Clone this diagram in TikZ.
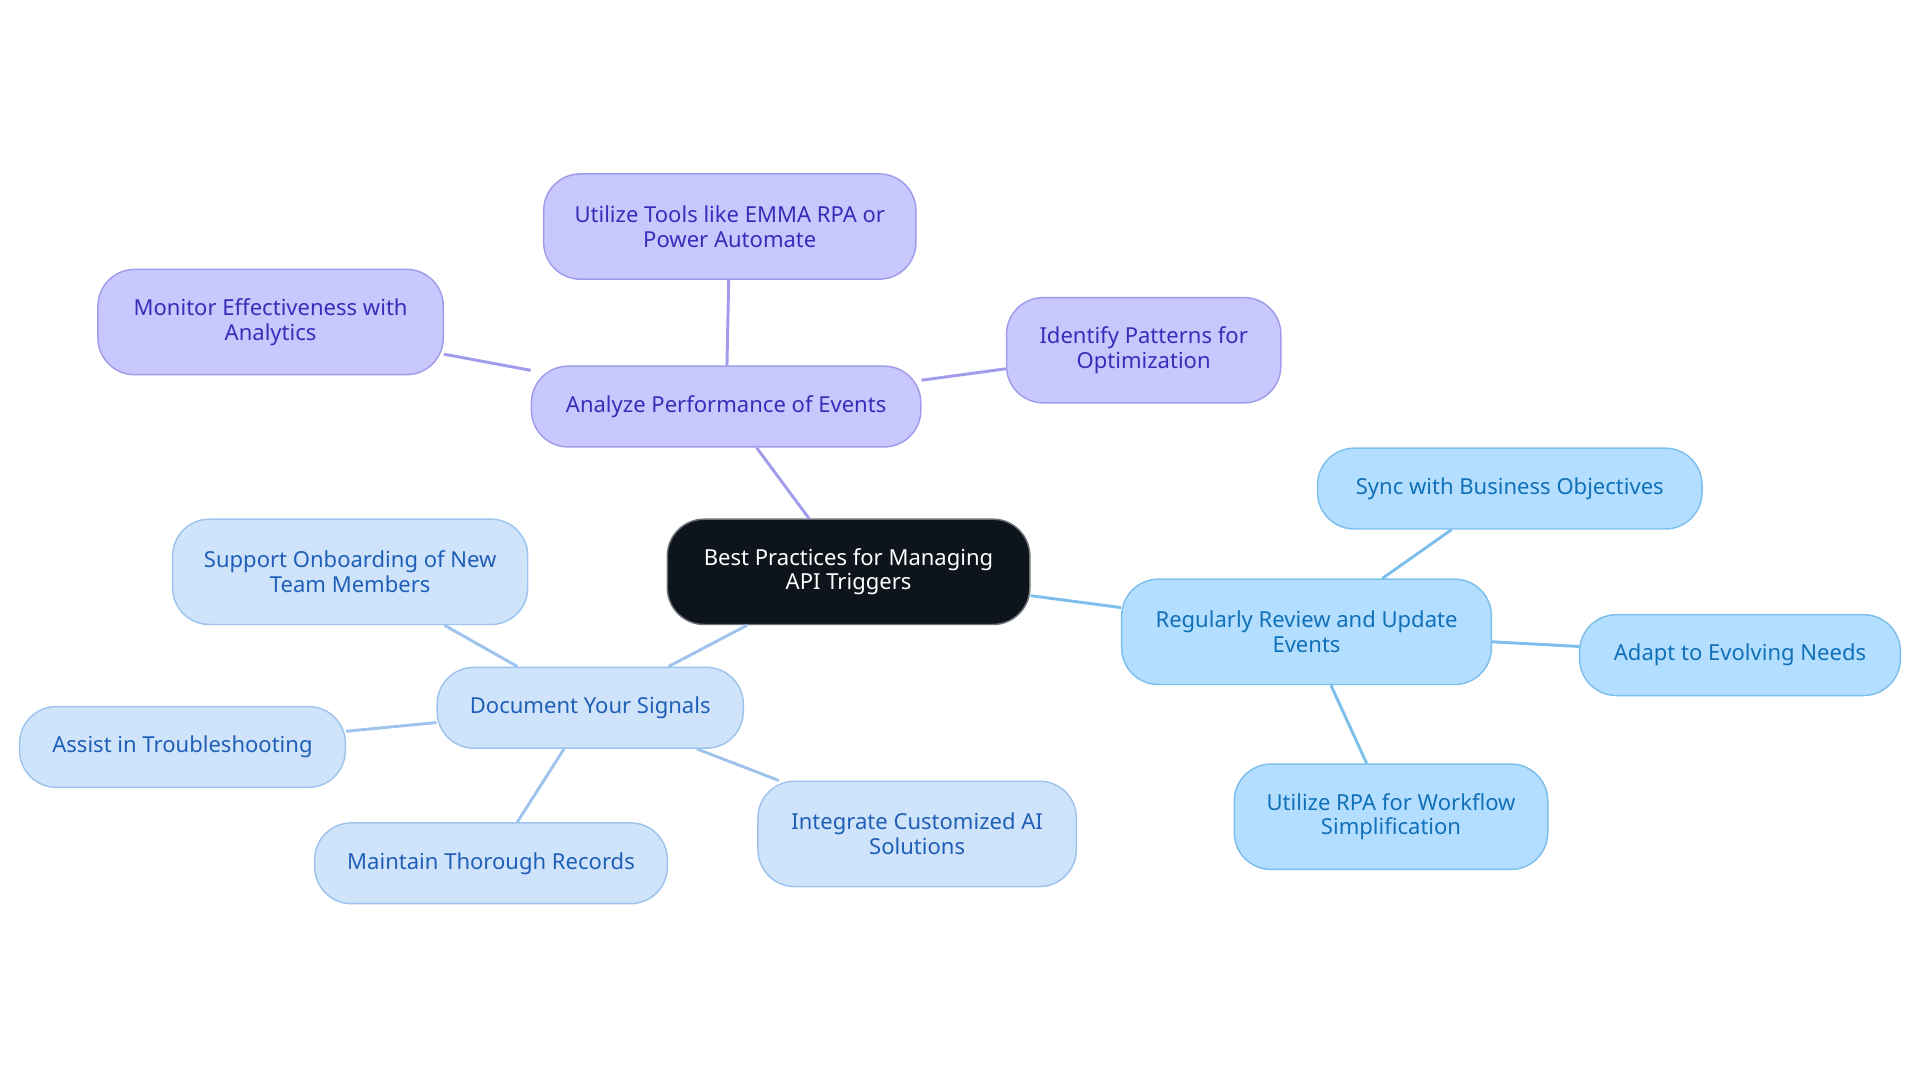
\documentclass[tikz,border=0pt]{standalone}
\usepackage{fontspec}
\setmainfont{Noto Sans}
\usetikzlibrary{positioning}
\definecolor{rootfill}{HTML}{0D141C}
\definecolor{purfill}{HTML}{C8C8FF}
\definecolor{purline}{HTML}{A09BEA}
\definecolor{purtext}{HTML}{3A2BB8}
\definecolor{docfill}{HTML}{CFE3FB}
\definecolor{docline}{HTML}{9EC4EE}
\definecolor{doctext}{HTML}{1F5FB8}
\definecolor{revfill}{HTML}{B3DEFF}
\definecolor{revline}{HTML}{7DBFEC}
\definecolor{revtext}{HTML}{1070B8}
\tikzset{
  box/.style={rounded corners=15pt,draw,line width=0.6pt,align=center,inner sep=2pt,
    font=\fontsize{9}{10}\selectfont},
  root/.style={box,fill=rootfill,draw=rootfill!60,text=white,minimum width=148pt,minimum height=43pt},
  pur/.style={box,fill=purfill,draw=purline,text=purtext},
  doc/.style={box,fill=docfill,draw=docline,text=doctext},
  rev/.style={box,fill=revfill,draw=revline,text=revtext},
  link/.style={line width=1.2pt}
}
\begin{document}
\begin{tikzpicture}[x=0.5pt,y=-0.5pt]
  \useasboundingbox (0,0) rectangle (1568,884);
  \node[root] (Root) at (693,467) {Best Practices for Managing\\API Triggers};
  % analyze branch
  \node[pur,minimum width=159pt,minimum height=33pt] (Analyze) at (593,332) {Analyze Performance of Events};
  \node[pur,minimum width=152pt,minimum height=43pt] (Tools) at (596,185) {Utilize Tools like EMMA RPA or\\Power Automate};
  \node[pur,minimum width=141pt,minimum height=43pt] (Monitor) at (221,263) {Monitor Effectiveness with\\Analytics};
  \node[pur,minimum width=112pt,minimum height=43pt] (Patterns) at (934,286) {Identify Patterns for\\Optimization};
  % review branch
  \node[rev,minimum width=151pt,minimum height=43pt] (Review) at (1067,516) {Regularly Review and Update\\Events};
  \node[rev,minimum width=157pt,minimum height=33pt] (Sync) at (1233,399) {Sync with Business Objectives};
  \node[rev,minimum width=131pt,minimum height=33pt] (Adapt) at (1421,535) {Adapt to Evolving Needs};
  \node[rev,minimum width=128pt,minimum height=43pt] (RPA) at (1136,667) {Utilize RPA for Workflow\\Simplification};
  % document branch
  \node[doc,minimum width=125pt,minimum height=33pt] (Document) at (482,578) {Document Your Signals};
  \node[doc,minimum width=145pt,minimum height=43pt] (Onboard) at (286,467) {Support Onboarding of New\\Team Members};
  \node[doc,minimum width=133pt,minimum height=33pt] (Assist) at (149,610) {Assist in Troubleshooting};
  \node[doc,minimum width=144pt,minimum height=33pt] (Records) at (401,705) {Maintain Thorough Records};
  \node[doc,minimum width=130pt,minimum height=43pt] (Integrate) at (749,681) {Integrate Customized AI\\Solutions};

  \draw[link,purline] (Root) -- (Analyze);
  \draw[link,purline] (Analyze) -- (Tools);
  \draw[link,purline] (Analyze) -- (Monitor);
  \draw[link,purline] (Analyze) -- (Patterns);
  \draw[link,revline] (Root) -- (Review);
  \draw[link,revline] (Review) -- (Sync);
  \draw[link,revline] (Review) -- (Adapt);
  \draw[link,revline] (Review) -- (RPA);
  \draw[link,docline] (Root) -- (Document);
  \draw[link,docline] (Document) -- (Onboard);
  \draw[link,docline] (Document) -- (Assist);
  \draw[link,docline] (Document) -- (Records);
  \draw[link,docline] (Document) -- (Integrate);
\end{tikzpicture}
\end{document}
